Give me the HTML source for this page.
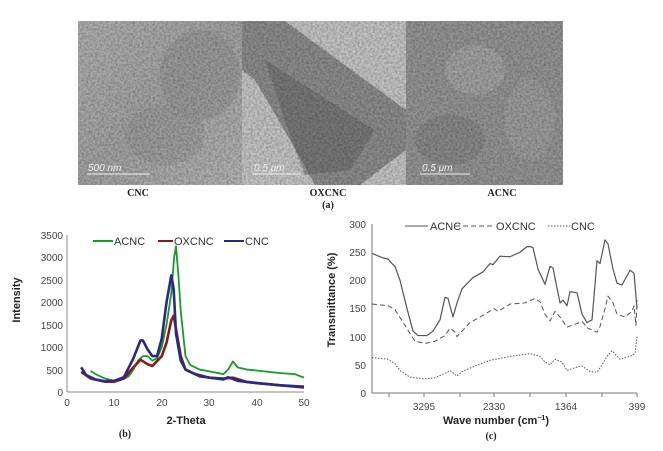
<!DOCTYPE html>
<html><head><meta charset="utf-8"><style>
html,body{margin:0;padding:0;background:#fff;}
svg{display:block;font-family:"Liberation Sans",sans-serif;}
.s{font-family:"Liberation Serif",serif;font-weight:bold;font-size:10px;fill:#222;}
.t{font-size:10px;fill:#444;}
</style></head><body>
<svg width="663" height="451" viewBox="0 0 663 451">
<defs>
<filter id="n1" x="0" y="0" width="100%" height="100%"><feTurbulence type="fractalNoise" baseFrequency="0.45" numOctaves="2" seed="3"/><feColorMatrix type="matrix" values="0 0 0 0 0  0 0 0 0 0  0 0 0 0 0  0 0 0 -1.6 1.1"/><feComposite in2="SourceGraphic" operator="in"/></filter>
<linearGradient id="gc" x1="0" y1="0" x2="1" y2="1"><stop offset="0" stop-color="#b0b0b0"/><stop offset="0.5" stop-color="#a2a2a2"/><stop offset="1" stop-color="#b4b4b4"/></linearGradient>
</defs>
<!-- TEM panels -->
<rect x="78" y="21" width="164" height="164" fill="url(#gc)"/>
<ellipse cx="200" cy="75" rx="40" ry="45" fill="#8e8e8e" opacity="0.45"/>
<ellipse cx="165" cy="135" rx="40" ry="30" fill="#909090" opacity="0.4"/>
<rect x="242" y="21" width="164" height="164" fill="#c4c4c4"/>
<polygon points="242,21 285,21 406,110 406,150 360,185 315,185 290,140 255,80 242,70" fill="#7a7a7a" opacity="0.75"/>
<polygon points="265,60 320,95 375,130 350,170 305,175 288,130" fill="#606060" opacity="0.45"/>
<rect x="406" y="21" width="157" height="164" fill="#949494"/>
<ellipse cx="475" cy="70" rx="30" ry="25" fill="#aaa" opacity="0.6"/>
<ellipse cx="450" cy="140" rx="35" ry="25" fill="#808080" opacity="0.6"/>
<ellipse cx="530" cy="120" rx="25" ry="40" fill="#a4a4a4" opacity="0.5"/>
<rect x="78" y="21" width="485" height="164" fill="#fff" filter="url(#n1)" opacity="0.3"/>
<g fill="#eee" font-size="10" font-style="italic">
<text x="88" y="171">500 nm</text><line x1="87" y1="174" x2="150" y2="174" stroke="#eee"/>
<text x="254" y="171">0.5 μm</text><line x1="252" y1="174" x2="300" y2="174" stroke="#eee"/>
<text x="422" y="171">0.5 μm</text><line x1="420" y1="174" x2="470" y2="174" stroke="#eee"/>
</g>
<text class="s" x="138" y="196" text-anchor="middle">CNC</text>
<text class="s" x="328" y="196" text-anchor="middle">OXCNC</text>
<text class="s" x="502" y="196" text-anchor="middle">ACNC</text>
<text class="s" x="328" y="208" text-anchor="middle">(a)</text>

<!-- Chart b -->
<g stroke="#888" stroke-width="1" fill="none">
<line x1="67" y1="235" x2="67" y2="392"/><line x1="67" y1="392" x2="304" y2="392"/>
</g>
<g class="t" text-anchor="end">
<text x="63" y="396">0</text><text x="63" y="374">500</text><text x="63" y="351">1000</text><text x="63" y="329">1500</text><text x="63" y="306">2000</text><text x="63" y="284">2500</text><text x="63" y="261">3000</text><text x="63" y="239">3500</text>
</g>
<g class="t" text-anchor="middle">
<text x="67" y="406">0</text><text x="114" y="406">10</text><text x="162" y="406">20</text><text x="209" y="406">30</text><text x="257" y="406">40</text><text x="304" y="406">50</text>
</g>
<text x="186" y="424" font-size="11" font-weight="bold" text-anchor="middle" fill="#222">2-Theta</text>
<text transform="translate(20,300) rotate(-90)" font-size="11" font-weight="bold" text-anchor="middle" fill="#222">Intensity</text>
<text class="s" x="125" y="437" text-anchor="middle" fill="#335">(b)</text>
<g transform="translate(67,392) scale(4.74,-0.04486)" fill="none" stroke-linejoin="round">
<polyline vector-effect="non-scaling-stroke" stroke="#1a9a2a" stroke-width="1.8" points="5,470 6,400 8,300 10,250 12,290 13,350 14,500 15,700 16,800 17,800 18,700 19,750 20,1000 21,1500 22,2200 22.6,3000 23,3250 23.5,2600 24,1800 25,800 26,600 28,500 30,460 33,400 34,500 35,680 36,550 38,500 40,480 45,420 48,400 50,320"/>
<polyline vector-effect="non-scaling-stroke" stroke="#8a1a1a" stroke-width="2.6" points="3,450 5,300 8,230 10,230 12,300 14,550 15.5,720 17,620 18,580 20,800 21,1100 22,1600 22.5,1700 23,1400 24,800 25,500 27,400 30,320 33,300 35,320 38,220 40,200 45,150 50,100"/>
<polyline vector-effect="non-scaling-stroke" stroke="#2a2a85" stroke-width="2.6" points="3,550 4,380 6,280 8,240 10,250 12,330 14,750 15.5,1150 16,1150 17,950 18,800 19,800 20,1200 21,2000 22,2600 22.5,2300 23,1300 24,700 25,500 28,350 30,320 33,280 34,330 36,250 40,200 45,150 50,120"/>
</g>
<line x1="93" y1="241" x2="113" y2="241" stroke="#1a9a2a" stroke-width="2"/><text x="114" y="245" font-size="11" fill="#333">ACNC</text>
<line x1="158" y1="241" x2="173" y2="241" stroke="#8a1a1a" stroke-width="2"/><text x="174" y="245" font-size="11" fill="#333">OXCNC</text>
<line x1="224" y1="241" x2="244" y2="241" stroke="#2a2a85" stroke-width="2"/><text x="245" y="245" font-size="11" fill="#333">CNC</text>

<!-- Chart c -->
<g stroke="#777" stroke-width="1" fill="none">
<line x1="372" y1="224" x2="372" y2="393"/><line x1="372" y1="393" x2="637" y2="393"/>
<line x1="389" y1="393" x2="389" y2="397"/><line x1="424" y1="393" x2="424" y2="397"/><line x1="460" y1="393" x2="460" y2="397"/><line x1="494" y1="393" x2="494" y2="397"/><line x1="530" y1="393" x2="530" y2="397"/><line x1="566" y1="393" x2="566" y2="397"/><line x1="602" y1="393" x2="602" y2="397"/><line x1="637" y1="393" x2="637" y2="397"/>
</g>
<g class="t" text-anchor="end">
<text x="366" y="397">0</text><text x="366" y="369">50</text><text x="366" y="341">100</text><text x="366" y="312">150</text><text x="366" y="284">200</text><text x="366" y="256">250</text><text x="366" y="228">300</text>
</g>
<g class="t" text-anchor="middle">
<text x="424" y="410">3295</text><text x="494" y="410">2330</text><text x="566" y="410">1364</text><text x="637" y="410">399</text>
</g>
<text x="496" y="424" font-size="11" font-weight="bold" text-anchor="middle" fill="#222">Wave number (cm<tspan font-size="7" dy="-4">−1</tspan><tspan dy="4">)</tspan></text>
<text transform="translate(335,300) rotate(-90)" font-size="11" font-weight="bold" text-anchor="middle" fill="#222">Transmittance (%)</text>
<text class="s" x="491" y="439" text-anchor="middle" font-weight="normal">(c)</text>
<g transform="translate(0,393) scale(1,-0.563)" fill="none" stroke="#555" stroke-linejoin="round">
<polyline vector-effect="non-scaling-stroke" stroke-width="1.2" points="372,248 383,240 388,238 392,230 395,225 400,200 407,150 413,110 418,102 427,102 433,110 440,130 445,170 448,168 453,135 457,160 462,185 473,205 483,215 490,230 493,228 500,243 510,242 520,250 527,260 530,260 533,258 538,220 545,193 550,225 553,222 560,160 563,165 567,155 570,180 577,178 582,140 587,125 592,130 597,235 600,230 605,272 608,265 613,220 617,195 622,192 630,218 634,213 637,150"/>
<polyline vector-effect="non-scaling-stroke" stroke-width="1" stroke-dasharray="5,3" points="372,158 388,155 395,148 405,120 415,92 425,88 435,92 445,102 450,115 455,108 457,100 462,110 470,125 485,140 494,150 498,145 510,158 525,160 535,168 540,162 545,140 550,128 555,145 560,135 567,117 575,122 582,127 588,115 597,108 600,118 605,150 608,172 613,160 617,140 625,135 632,145 634,155 636,120 637,165"/>
<polyline vector-effect="non-scaling-stroke" stroke-width="1" stroke-dasharray="1.5,1.5" points="372,63 388,60 395,52 400,40 410,28 425,25 435,27 445,35 450,40 457,30 462,38 475,48 490,58 510,65 530,70 540,65 545,55 550,50 555,60 562,55 567,40 575,45 582,48 590,38 597,37 602,50 607,65 612,75 620,60 630,65 635,70 637,100"/>
</g>
<line x1="405" y1="226" x2="428" y2="226" stroke="#555"/><text x="430" y="230" font-size="11" fill="#333">ACNC</text>
<line x1="455" y1="226" x2="494" y2="226" stroke="#555" stroke-dasharray="5,3"/><text x="496" y="230" font-size="11" fill="#333">OXCNC</text>
<line x1="548" y1="226" x2="570" y2="226" stroke="#555" stroke-dasharray="1.5,1.5"/><text x="571" y="230" font-size="11" fill="#333">CNC</text>
</svg>
</body></html>
